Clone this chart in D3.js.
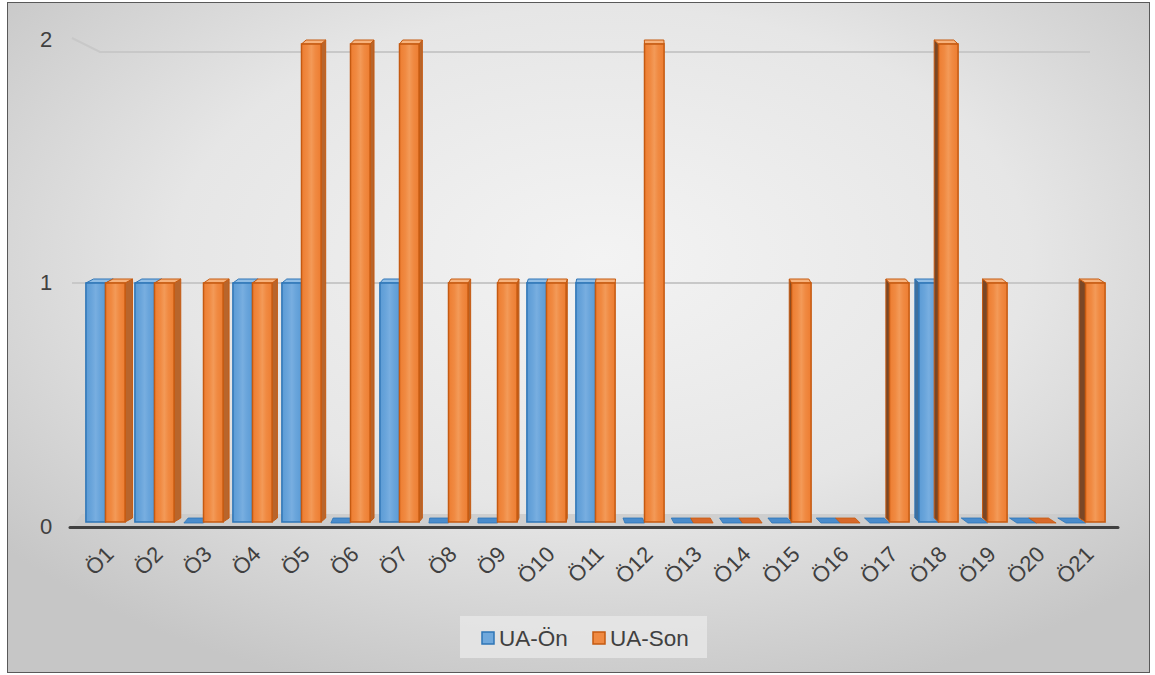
<!DOCTYPE html>
<html>
<head>
<meta charset="utf-8">
<script src="https://cdn.jsdelivr.net/npm/d3@7"></script>
<style>
  html, body { margin: 0; padding: 0; background: #ffffff; }
  svg { display: block; font-family: "Liberation Sans", Arial, sans-serif; }
</style>
</head>
<body>
<svg id="chart" width="1155" height="675"></svg>
<script>
// Categories and series values
const categories = ["Ö1","Ö2","Ö3","Ö4","Ö5","Ö6","Ö7","Ö8","Ö9","Ö10","Ö11","Ö12","Ö13","Ö14","Ö15","Ö16","Ö17","Ö18","Ö19","Ö20","Ö21"];
const uaOn  = [1,1,0,1,1,0,1,0,0,1,1,0,0,0,0,0,0,1,0,0,0];
const uaSon = [1,1,1,1,2,2,2,1,1,1,1,2,0,0,1,0,1,2,1,0,1];
const seriesNames = ["UA-Ön", "UA-Son"];
const yTicks = [0, 1, 2];

const W = 1155, H = 675;
const svg = d3.select("#chart");
const defs = svg.append("defs");

// Chart area background
const bg = defs.append("radialGradient").attr("id", "bgGrad")
  .attr("cx", "52%").attr("cy", "38%").attr("r", "68%");
bg.append("stop").attr("offset", "0%").attr("stop-color", "#f3f3f3");
bg.append("stop").attr("offset", "55%").attr("stop-color", "#e6e6e6");
bg.append("stop").attr("offset", "100%").attr("stop-color", "#c6c6c6");
svg.append("rect").attr("x", 7.5).attr("y", 2.5).attr("width", 1142).attr("height", 670)
  .attr("fill", "url(#bgGrad)").attr("stroke", "#595959").attr("stroke-width", 1);

// Face gradients for the columns
function faceGrad(id, edge, mid, light) {
  const g = defs.append("linearGradient").attr("id", id).attr("x1", "0%").attr("x2", "100%");
  g.append("stop").attr("offset", "0%").attr("stop-color", edge);
  g.append("stop").attr("offset", "30%").attr("stop-color", mid);
  g.append("stop").attr("offset", "50%").attr("stop-color", light);
  g.append("stop").attr("offset", "70%").attr("stop-color", mid);
  g.append("stop").attr("offset", "100%").attr("stop-color", edge);
}
faceGrad("gOn", "#5b9bd5", "#6aa5db", "#78aee0");
faceGrad("gSon", "#ed7d31", "#f08a42", "#f39a58");

const colors = {
  on:  { face: "url(#gOn)",  stroke: "#2e75b6", sideL: "#3f6f9c", sideR: "#4a86c0", top: "#8fbde6", flat: "#4a8ccc" },
  son: { face: "url(#gSon)", stroke: "#c55a11", sideL: "#7a4726", sideR: "#b8652c", top: "#f7b27c", flat: "#d8692a" }
};

// Scales
const x0 = d3.scaleBand().domain(categories).range([81, 1110]).paddingInner(0.2).paddingOuter(0.1);
const x1 = d3.scaleBand().domain(["on", "son"]).range([0, x0.bandwidth()]);
const yFront = d3.scaleLinear().domain([0, 2]).range([522, 44]);
const yBack  = d3.scaleLinear().domain([0, 2]).range([514, 52]);

// Perspective helpers: the back of each column shifts toward a vanishing x
const vanishX = 640, depthK = 0.014, depthY = 4;
const backDx = xx => (vanishX - xx) * depthK;

// Back-wall gridlines
const grid = svg.append("g");
grid.append("line").attr("x1", 72).attr("x2", 1090)
  .attr("y1", yBack(1)).attr("y2", yBack(1)).attr("stroke", "#c8c8c8").attr("stroke-width", 2);
grid.append("polyline")
  .attr("points", [[72, 38], [100, yBack(2)], [1090, yBack(2)]].map(p => p.join(",")).join(" "))
  .attr("fill", "none").attr("stroke", "#c8c8c8").attr("stroke-width", 2);

// Floor
svg.append("polygon")
  .attr("points", [[72, 527], [1118, 527], [1092, 514], [82, 514]].map(p => p.join(",")).join(" "))
  .attr("fill", "#c9c9c9").attr("opacity", 0.8);
svg.append("line").attr("x1", 70).attr("x2", 1118).attr("y1", 527.5).attr("y2", 527.5)
  .attr("stroke", "#404040").attr("stroke-width", 3).attr("stroke-linecap", "round");

// Y tick labels
svg.append("g").selectAll("text").data(yTicks).join("text")
  .attr("x", 46).attr("y", d => d === 2 ? 39 : yFront(d) + (d === 0 ? 4 : -1))
  .attr("dy", "0.35em").attr("text-anchor", "middle")
  .attr("font-size", 22).attr("fill", "#404040").text(d => d);

// Column data
const bars = [];
categories.forEach((c, i) => {
  bars.push({ cat: c, key: "on", v: uaOn[i] });
  bars.push({ cat: c, key: "son", v: uaSon[i] });
});

const poly = pts => pts.map(p => p.join(",")).join(" ");
const barG = svg.append("g");

bars.forEach(b => {
  const xl = x0(b.cat) + x1(b.key);
  const w = x1.bandwidth();
  const xr = xl + w;
  const col = colors[b.key];
  const g = barG.append("g");
  const yb = yFront(0), yt = yFront(b.v);
  const cx = xl + w / 2;
  const dx = backDx(cx);

  if (b.v === 0) {
    // Flat slab lying on the floor
    g.append("polygon")
      .attr("points", poly([[xl, yb + 1], [xr, yb + 1], [xr + dx - 2, yb - 4], [xl + dx - 2, yb - 4]]))
      .attr("fill", col.flat).attr("stroke", col.stroke).attr("stroke-width", 0.8);
    return;
  }

  // Side face
  if (dx > 0.5) {
    g.append("polygon")
      .attr("points", poly([[xr, yb], [xr + dx, yb - depthY], [xr + dx, yt - depthY], [xr, yt]]))
      .attr("fill", col.sideR).attr("stroke", col.stroke).attr("stroke-width", 1);
  } else if (dx < -0.5) {
    g.append("polygon")
      .attr("points", poly([[xl, yb], [xl + dx, yb - depthY], [xl + dx, yt - depthY], [xl, yt]]))
      .attr("fill", col.sideL).attr("stroke", col.stroke).attr("stroke-width", 1);
  }
  // Top face
  g.append("polygon")
    .attr("points", poly([[xl, yt], [xr, yt], [xr + dx, yt - depthY], [xl + dx, yt - depthY]]))
    .attr("fill", col.top).attr("stroke", col.stroke).attr("stroke-width", 1);
  // Front face
  g.append("rect").attr("x", xl).attr("y", yt).attr("width", w).attr("height", yb - yt)
    .attr("fill", col.face).attr("stroke", col.stroke).attr("stroke-width", 1.5);
});

// X category labels, rotated
svg.append("g").selectAll("text").data(categories).join("text")
  .attr("transform", d => `translate(${x0(d) + x0.bandwidth() / 2 - 2},${544}) rotate(-45)`)
  .attr("text-anchor", "end").attr("dy", "0.75em")
  .attr("font-size", 22).attr("fill", "#404040").text(d => d);

// Legend
const legend = svg.append("g");
legend.append("rect").attr("x", 460).attr("y", 616).attr("width", 247).attr("height", 42)
  .attr("fill", "#e6e6e6").attr("opacity", 0.85);
const legItems = [
  { name: seriesNames[0], key: "on", x: 482 },
  { name: seriesNames[1], key: "son", x: 593 }
];
legItems.forEach(it => {
  legend.append("rect").attr("x", it.x).attr("y", 632).attr("width", 12).attr("height", 12)
    .attr("fill", it.key === "on" ? "#6fa8dc" : "#f08a42")
    .attr("stroke", colors[it.key].stroke).attr("stroke-width", 1.5);
  legend.append("text").attr("x", it.x + 17).attr("y", 646)
    .attr("font-size", 22.5).attr("fill", "#404040").text(it.name);
});
</script>
</body>
</html>
